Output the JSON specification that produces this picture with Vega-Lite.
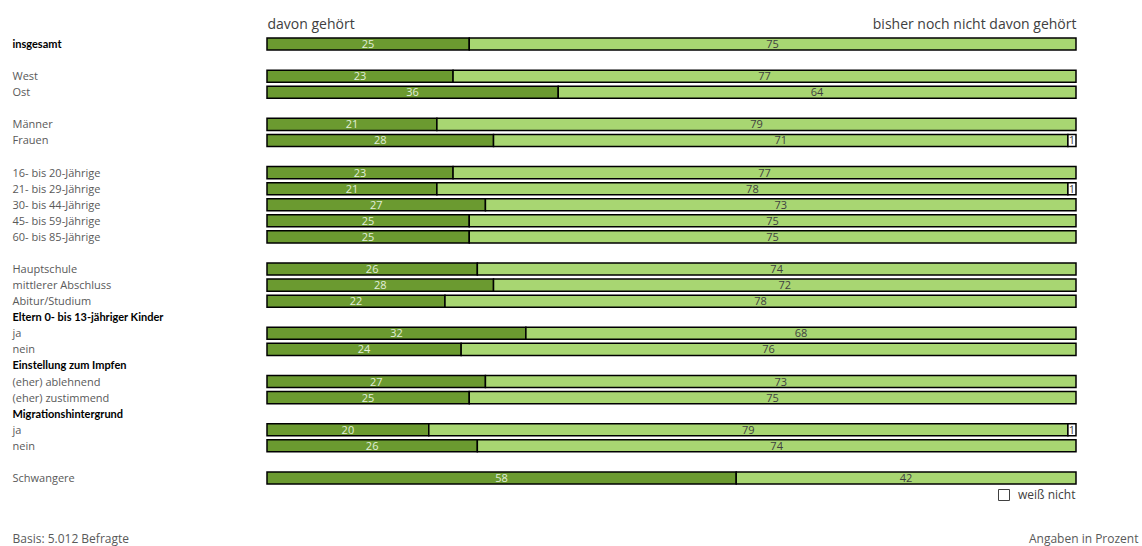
{
  "$schema": "https://vega.github.io/schema/vega-lite/v6.json",
  "width": 809,
  "height": 450,
  "autosize": {"type": "none"},
  "padding": {"left": 267, "top": 36, "right": 66, "bottom": 60},
  "background": "white",
  "config": {"font": "Open Sans", "view": {"stroke": null}},
  "data": {"values": [
    {"k": "01H|insgesamt", "a": 25, "b": 75, "w": 0},
    {"k": "03 |West", "a": 23, "b": 77, "w": 0},
    {"k": "04 |Ost", "a": 36, "b": 64, "w": 0},
    {"k": "06 |Männer", "a": 21, "b": 79, "w": 0},
    {"k": "07 |Frauen", "a": 28, "b": 71, "w": 1},
    {"k": "09 |16- bis 20-Jährige", "a": 23, "b": 77, "w": 0},
    {"k": "10 |21- bis 29-Jährige", "a": 21, "b": 78, "w": 1},
    {"k": "11 |30- bis 44-Jährige", "a": 27, "b": 73, "w": 0},
    {"k": "12 |45- bis 59-Jährige", "a": 25, "b": 75, "w": 0},
    {"k": "13 |60- bis 85-Jährige", "a": 25, "b": 75, "w": 0},
    {"k": "15 |Hauptschule", "a": 26, "b": 74, "w": 0},
    {"k": "16 |mittlerer Abschluss", "a": 28, "b": 72, "w": 0},
    {"k": "17 |Abitur/Studium", "a": 22, "b": 78, "w": 0},
    {"k": "19 |ja", "a": 32, "b": 68, "w": 0},
    {"k": "20 |nein", "a": 24, "b": 76, "w": 0},
    {"k": "22 |(eher) ablehnend", "a": 27, "b": 73, "w": 0},
    {"k": "23 |(eher) zustimmend", "a": 25, "b": 75, "w": 0},
    {"k": "25 |ja", "a": 20, "b": 79, "w": 1},
    {"k": "26 |nein", "a": 26, "b": 74, "w": 0},
    {"k": "28 |Schwangere", "a": 58, "b": 42, "w": 0}
  ]},
  "transform": [
    {"fold": ["a", "b", "w"], "as": ["s", "v"]},
    {"filter": "datum.v > 0"},
    {"calculate": "datum.s == 'a' ? 'davon gehört' : datum.s == 'b' ? 'bisher noch nicht davon gehört' : 'weiß nicht'", "as": "c"},
    {"stack": "v", "groupby": ["k"], "sort": [{"field": "s"}], "as": ["x0", "x1"]},
    {"calculate": "(datum.x0 + datum.x1) / 2", "as": "xm"}
  ],
  "encoding": {
    "y": {
      "field": "k",
      "type": "nominal",
      "scale": {
        "domain": ["01H|insgesamt", "02 |", "03 |West", "04 |Ost", "05 |", "06 |Männer", "07 |Frauen", "08 |", "09 |16- bis 20-Jährige", "10 |21- bis 29-Jährige", "11 |30- bis 44-Jährige", "12 |45- bis 59-Jährige", "13 |60- bis 85-Jährige", "14 |", "15 |Hauptschule", "16 |mittlerer Abschluss", "17 |Abitur/Studium", "18H|Eltern 0- bis 13-jähriger Kinder", "19 |ja", "20 |nein", "21H|Einstellung zum Impfen", "22 |(eher) ablehnend", "23 |(eher) zustimmend", "24H|Migrationshintergrund", "25 |ja", "26 |nein", "27 |", "28 |Schwangere"],
        "paddingInner": 0.25,
        "paddingOuter": 0.125
      },
      "axis": {
        "labelExpr": "split(datum.value, '|')[1]",
        "labelAlign": "left",
        "labelPadding": 255,
        "labelLimit": 250,
        "labelOffset": 1,
        "ticks": false,
        "domain": false,
        "grid": false,
        "labelFontSize": 11,
        "labelFont": {"condition": {"test": "slice(datum.value, 2, 3) == 'H'", "value": "Lato"}, "value": "Open Sans"},
        "labelColor": {"condition": {"test": "slice(datum.value, 2, 3) == 'H'", "value": "black"}, "value": "#595959"},
        "labelFontWeight": {"condition": {"test": "slice(datum.value, 2, 3) == 'H'", "value": "bold"}, "value": "normal"},
        "title": "Basis: 5.012 Befragte",
        "titleAngle": 0,
        "titleAlign": "left",
        "titleBaseline": "alphabetic",
        "titleX": -255,
        "titleY": 506,
        "titleFontSize": 12,
        "titleFontWeight": "normal",
        "titleColor": "#595959"
      }
    }
  },
  "layer": [
    {
      "mark": {"type": "bar", "stroke": "black", "strokeWidth": 1.5},
      "encoding": {
        "x": {
          "field": "x0",
          "type": "quantitative",
          "scale": {"domain": [0, 100], "nice": false},
          "axis": {
            "orient": "top",
            "values": [0, 100],
            "labelExpr": "datum.value == 0 ? 'davon gehört' : 'bisher noch nicht davon gehört'",
            "labelAlign": {"condition": {"test": "datum.value == 0", "value": "left"}, "value": "right"},
            "labelFlush": false,
            "labelBound": false,
            "labelOverlap": false,
            "labelLimit": 400,
            "labelBaseline": "alphabetic",
            "ticks": false,
            "domain": false,
            "grid": false,
            "labelFontSize": 14,
            "labelColor": "#404040",
            "labelPadding": 8,
            "title": "Angaben in Prozent",
            "titleX": 871,
            "titleY": 506,
            "titleAlign": "right",
            "titleAngle": 0,
            "titleBaseline": "alphabetic",
            "titleFontSize": 12,
            "titleFontWeight": "normal",
            "titleColor": "#595959"
          }
        },
        "x2": {"field": "x1"},
        "color": {
          "field": "c",
          "type": "nominal",
          "scale": {"domain": ["davon gehört", "bisher noch nicht davon gehört", "weiß nicht"], "range": ["#6b9a30", "#a8d672", "#ffffff"]},
          "legend": {
            "values": ["weiß nicht"],
            "orient": "none",
            "legendX": 731,
            "legendY": 453,
            "title": null,
            "symbolType": "square",
            "symbolSize": 121,
            "symbolStrokeColor": "#404040",
            "symbolStrokeWidth": 1,
            "symbolOpacity": 1,
            "labelFontSize": 12,
            "labelColor": "#404040",
            "labelOffset": 8
          }
        }
      }
    },
    {
      "mark": {"type": "text", "fontSize": 11, "dy": 1},
      "encoding": {
        "x": {
          "field": "xm",
          "type": "quantitative",
          "axis": {
            "orient": "top",
            "values": [0, 100],
            "labelExpr": "datum.value == 0 ? 'davon gehört' : 'bisher noch nicht davon gehört'",
            "labelAlign": {"condition": {"test": "datum.value == 0", "value": "left"}, "value": "right"},
            "labelFlush": false,
            "labelBound": false,
            "labelOverlap": false,
            "labelLimit": 400,
            "labelBaseline": "alphabetic",
            "ticks": false,
            "domain": false,
            "grid": false,
            "labelFontSize": 14,
            "labelColor": "#404040",
            "labelPadding": 8,
            "title": "Angaben in Prozent",
            "titleX": 871,
            "titleY": 506,
            "titleAlign": "right",
            "titleAngle": 0,
            "titleBaseline": "alphabetic",
            "titleFontSize": 12,
            "titleFontWeight": "normal",
            "titleColor": "#595959"
          }
        },
        "text": {"field": "v", "type": "quantitative"},
        "color": {"condition": {"test": "datum.s == 'a'", "value": "#e2efda"}, "value": "#404040"}
      }
    }
  ]
}
